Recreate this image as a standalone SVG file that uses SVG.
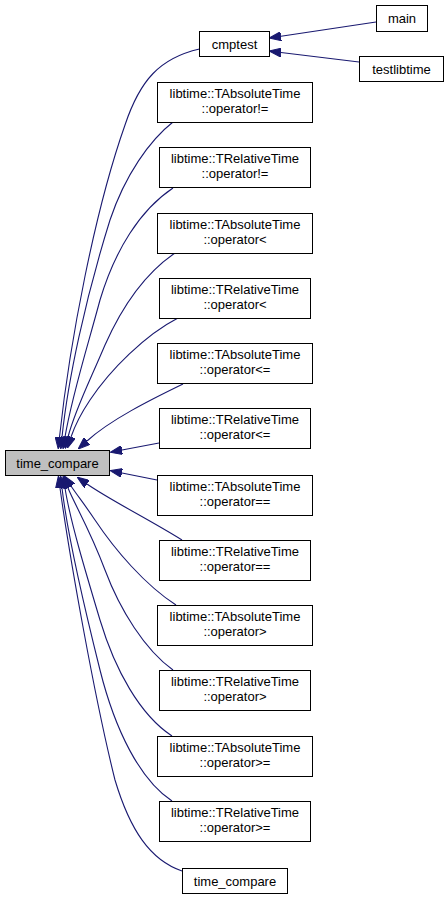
<svg xmlns="http://www.w3.org/2000/svg" width="448" height="899" viewBox="0 0 448 899">
<style>
.n rect{fill:#fff;stroke:#000;stroke-width:1}
.n.hl rect{fill:#bfbfbf}
.n text{font-family:"Liberation Sans",Arial,sans-serif;font-size:13px;fill:#000;text-anchor:middle}
.e path{fill:none;stroke:#191970;stroke-width:1.1;marker-end:url(#ah)}
</style>
<defs>
<marker id="ah" viewBox="0 0 12 9" refX="0" refY="4.5" markerWidth="12" markerHeight="9" markerUnits="userSpaceOnUse" orient="auto">
<path d="M0,0 L12,4.5 L0,9 Z" fill="#191970" stroke="#191970" stroke-width="1"/>
</marker>
</defs>
<rect width="448" height="899" fill="#fff"/>
<g id="edges" class="e">
<path d="M376,22 L281,36.2"/>
<path d="M359,62 L281,52.5"/>
<path d="M199.5,49 C160,58 140,80 125,125 C95,210 70,340 59.5,437"/>
<path d="M173,122 C150,140 125,175 110,220 C85,300 68,380 62,437"/>
<path d="M173,188 C140,210 115,250 100,300 C88,345 72,395 65,437"/>
<path d="M175,253 C150,270 125,300 105,345 C88,385 75,410 68,437"/>
<path d="M178,318 C145,335 110,370 90,400 C80,415 75,425 71,437"/>
<path d="M183,384 C150,400 110,420 87,441"/>
<path d="M159,443 L122,450"/>
<path d="M157,480 L122,473"/>
<path d="M182,540 C150,520 110,500 87,484"/>
<path d="M176,605 C145,585 115,550 95,520 C85,505 77,495 71,486"/>
<path d="M173,670 C145,650 120,610 105,570 C90,530 75,505 68,488"/>
<path d="M172,736 C140,715 115,670 100,620 C85,570 70,520 65,488"/>
<path d="M172,801 C140,780 115,730 100,670 C85,610 68,540 62,488"/>
<path d="M182,871 C150,860 130,830 115,780 C95,700 70,560 60,488"/>
</g>
<g id="n_time_compare" class="n hl"><rect x="5.5" y="450.5" width="104" height="25"/><text x="57.5" y="467.5">time_compare</text></g>
<g id="n_cmptest" class="n"><rect x="199.5" y="31.5" width="70" height="25"/><text x="234.5" y="48.5">cmptest</text></g>
<g id="n_main" class="n"><rect x="376.5" y="5.5" width="51" height="26"/><text x="402" y="23">main</text></g>
<g id="n_testlibtime" class="n"><rect x="359.5" y="56.5" width="84" height="25"/><text x="401.5" y="73.5">testlibtime</text></g>
<g id="n_abs_ne" class="n"><rect x="157.5" y="82.5" width="155" height="40"/><text x="235" y="97.5">libtime::TAbsoluteTime</text><text x="235" y="112.5">::operator!=</text></g>
<g id="n_rel_ne" class="n"><rect x="159.5" y="147.5" width="151" height="40"/><text x="235" y="162.5">libtime::TRelativeTime</text><text x="235" y="177.5">::operator!=</text></g>
<g id="n_abs_lt" class="n"><rect x="157.5" y="213.5" width="155" height="40"/><text x="235" y="228.5">libtime::TAbsoluteTime</text><text x="235" y="243.5">::operator&lt;</text></g>
<g id="n_rel_lt" class="n"><rect x="159.5" y="278.5" width="151" height="40"/><text x="235" y="293.5">libtime::TRelativeTime</text><text x="235" y="308.5">::operator&lt;</text></g>
<g id="n_abs_le" class="n"><rect x="157.5" y="343.5" width="155" height="40"/><text x="235" y="358.5">libtime::TAbsoluteTime</text><text x="235" y="373.5">::operator&lt;=</text></g>
<g id="n_rel_le" class="n"><rect x="159.5" y="408.5" width="151" height="40"/><text x="235" y="423.5">libtime::TRelativeTime</text><text x="235" y="438.5">::operator&lt;=</text></g>
<g id="n_abs_eq" class="n"><rect x="157.5" y="475.5" width="155" height="40"/><text x="235" y="490.5">libtime::TAbsoluteTime</text><text x="235" y="505.5">::operator==</text></g>
<g id="n_rel_eq" class="n"><rect x="159.5" y="540.5" width="151" height="40"/><text x="235" y="555.5">libtime::TRelativeTime</text><text x="235" y="570.5">::operator==</text></g>
<g id="n_abs_gt" class="n"><rect x="157.5" y="605.5" width="155" height="40"/><text x="235" y="620.5">libtime::TAbsoluteTime</text><text x="235" y="635.5">::operator&gt;</text></g>
<g id="n_rel_gt" class="n"><rect x="159.5" y="670.5" width="151" height="40"/><text x="235" y="685.5">libtime::TRelativeTime</text><text x="235" y="700.5">::operator&gt;</text></g>
<g id="n_abs_ge" class="n"><rect x="157.5" y="736.5" width="155" height="40"/><text x="235" y="751.5">libtime::TAbsoluteTime</text><text x="235" y="766.5">::operator&gt;=</text></g>
<g id="n_rel_ge" class="n"><rect x="159.5" y="801.5" width="151" height="40"/><text x="235" y="816.5">libtime::TRelativeTime</text><text x="235" y="831.5">::operator&gt;=</text></g>
<g id="n_time_compare2" class="n"><rect x="182.5" y="868.5" width="105" height="25"/><text x="235" y="885.5">time_compare</text></g>
</svg>
